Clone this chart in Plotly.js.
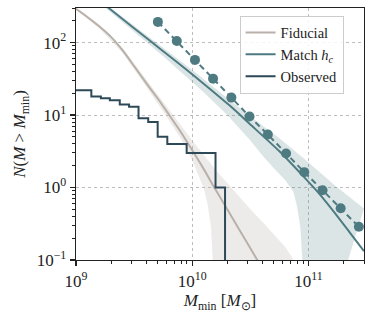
<!DOCTYPE html>
<html><head><meta charset="utf-8">
<script src="https://cdn.plot.ly/plotly-3.0.1.min.js"></script>
<style>html,body{margin:0;padding:0;background:#fff;}#plot{width:374px;height:318px;}</style>
</head><body><div id="plot"></div>
<script>
// Fiducial model: median and band
const fidM = [1.0e9, 1.26e9, 1.58e9, 2.0e9, 2.51e9, 3.16e9, 3.98e9, 5.01e9, 6.31e9, 7.94e9, 1.0e10, 1.26e10, 1.58e10, 2.0e10, 2.51e10, 3.16e10, 3.98e10];
const fidN = [292, 224, 168, 120, 78.5, 47.3, 28.2, 17.2, 10.1, 5.89, 3.27, 1.78, 0.944, 0.50, 0.269, 0.145, 0.0776];
const fidUpM = [1e9, 1.58e9, 2.51e9, 3.98e9, 6.31e9, 1e10, 1.58e10, 2.51e10, 3.16e10, 3.98e10, 5.01e10, 6.31e10, 7.59e10, 7.76e10];
const fidUpN = [302, 178, 85.1, 31.6, 12.0, 4.47, 1.78, 0.759, 0.501, 0.339, 0.229, 0.151, 0.0955, 0.001];
const fidLoM = [1e9, 1.58e9, 2.51e9, 3.98e9, 6.31e9, 7.94e9, 1e10, 1.12e10, 1.26e10, 1.35e10, 1.45e10, 1.51e10, 1.53e10];
const fidLoN = [282, 158, 72.4, 25.1, 8.51, 4.79, 2.40, 1.58, 0.955, 0.603, 0.282, 0.079, 0.001];

// Match h_c model: median and band
const matM = [1.58e9, 1.89e9, 3.16e9, 5.62e9, 7.94e9, 1.26e10, 2.10e10, 3.16e10, 5.62e10, 9.20e10, 1.26e11, 1.70e11, 2.24e11, 3.0e11];
const matN = [380, 304, 158, 75.9, 49.0, 26.9, 13.5, 7.41, 3.16, 1.38, 0.794, 0.437, 0.245, 0.132];
const matUpM = [1.58e9, 3.16e9, 5.62e9, 1e10, 1.78e10, 3.16e10, 5.62e10, 9.12e10, 1.71e11, 3.0e11];
const matUpN = [398, 174, 85.1, 41.7, 20.0, 9.55, 4.79, 2.51, 1.05, 0.513];
const matLoM = [1.58e9, 3.16e9, 5.62e9, 7.94e9, 1.26e10, 2.0e10, 3.16e10, 3.98e10, 5.01e10, 6.31e10, 7.41e10, 7.94e10, 8.51e10, 8.91e10, 9.02e10];
const matLoN = [355, 141, 64.6, 39.8, 20.4, 10.0, 4.47, 2.82, 1.86, 1.26, 0.871, 0.562, 0.282, 0.0794, 0.001];

// Dashed target points
const dashM = [5.06e9, 7.36e9, 1.055e10, 1.51e10, 2.17e10, 3.11e10, 4.47e10, 6.41e10, 9.19e10, 1.32e11, 1.89e11, 2.71e11];
const dashN = [193, 105, 57.7, 31.8, 17.4, 9.53, 5.38, 2.94, 1.63, 0.918, 0.518, 0.287];

// Observed cumulative counts (step)
const obsM = [1e9, 1.355e9, 1.636e9, 1.954e9, 2.38e9, 2.86e9, 3.45e9, 4.18e9, 5.04e9, 6.10e9, 8.95e9, 1.585e10, 1.914e10];
const obsN = [22, 18, 17, 16, 14, 13, 9, 8, 5, 4, 3, 1, 0.001];

// Tick labels
const xTickVals = [1e9, 1e10, 1e11];
const xTickText = ['10<sup>9</sup>', '10<sup>10</sup>', '10<sup>11</sup>'];
const yTickVals = [0.1, 1, 10, 100];
const yTickText = ['10<sup>−1</sup>', '10<sup>0</sup>', '10<sup>1</sup>', '10<sup>2</sup>'];

const cFid = '#b9b0a9', cMat = '#4e7b82', cObs = '#2d4958';
function band(upM, upN, loM, loN, fill) {
  return {x: upM.concat(loM.slice().reverse()), y: upN.concat(loN.slice().reverse()),
    type: 'scatter', mode: 'lines', fill: 'toself', fillcolor: fill, line: {width: 0}, hoverinfo: 'skip', showlegend: false};
}
const traces = [
  band(fidUpM, fidUpN, fidLoM, fidLoN, 'rgba(185,176,169,0.25)'),
  band(matUpM, matUpN, matLoM, matLoN, 'rgba(78,123,130,0.2)'),
  {x: fidM, y: fidN, type: 'scatter', mode: 'lines', name: 'Fiducial', line: {color: cFid, width: 2, shape: 'spline', smoothing: 0.6}},
  {x: matM, y: matN, type: 'scatter', mode: 'lines', name: 'Match <i>h</i><sub><i>c</i></sub>', line: {color: cMat, width: 2, shape: 'spline', smoothing: 0.6}},
  {x: obsM, y: obsN, type: 'scatter', mode: 'lines', name: 'Observed', line: {color: cObs, width: 2, shape: 'hv'}},
  {x: dashM, y: dashN, type: 'scatter', mode: 'lines+markers', showlegend: false, line: {color: cMat, width: 2, dash: '6px,4px'}, marker: {color: cMat, size: 10}}
];
const fnt = {family: 'Liberation Serif, serif', size: 17, color: '#222'};
const axBase = {type: 'log', showline: true, mirror: true, linecolor: '#222', linewidth: 1.3,
  ticks: 'outside', ticklen: 5, tickwidth: 1.2, tickcolor: '#222', tickmode: 'array',
  showgrid: true, gridcolor: '#bdbdbd', griddash: 'dot', gridwidth: 1, zeroline: false, tickfont: fnt,
  minor: {ticks: 'outside', ticklen: 3, tickwidth: 1, tickcolor: '#222', tickmode: 'linear', dtick: 'D1', showgrid: false}};
const layout = {
  width: 374, height: 318, margin: {l: 76, r: 10, t: 8, b: 58},
  paper_bgcolor: '#fff', plot_bgcolor: '#fff', font: fnt,
  xaxis: Object.assign({}, axBase, {range: [9, Math.log10(3e11)], tickvals: xTickVals, ticktext: xTickText,
    title: {text: '<i>M</i><sub>min</sub> [<i>M</i><sub>⊙</sub>]', font: fnt, standoff: 4}}),
  yaxis: Object.assign({}, axBase, {range: [-1, Math.log10(300)], tickvals: yTickVals, ticktext: yTickText,
    title: {text: '<i>N</i>(<i>M</i> > <i>M</i><sub>min</sub>)', font: fnt, standoff: 6}}),
  legend: {x: 0.568, y: 0.97, xanchor: 'left', yanchor: 'top', bgcolor: 'rgba(255,255,255,0.85)', bordercolor: '#cccccc', borderwidth: 1,
    font: {family: 'Liberation Serif, serif', size: 14.5, color: '#222'}, itemwidth: 30, tracegroupgap: 0},
  showlegend: true
};
Plotly.newPlot('plot', traces, layout, {displayModeBar: false, staticPlot: true});
</script></body></html>
